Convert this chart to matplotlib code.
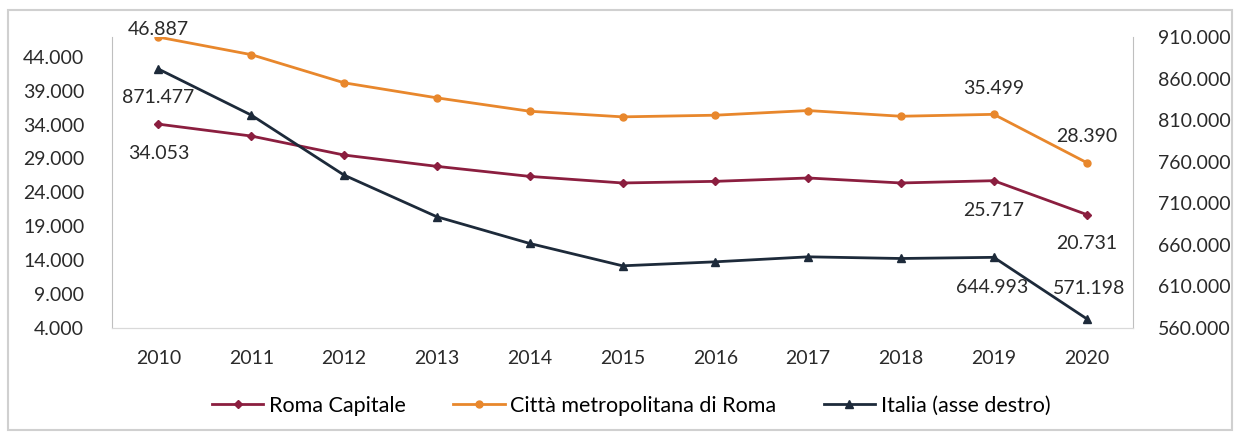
import matplotlib.pyplot as plt
from matplotlib.patches import Rectangle
from matplotlib.ticker import FuncFormatter

plt.rcParams['font.family'] = ['Lato', 'DejaVu Sans']

anni = ["2010", "2011", "2012", "2013", "2014", "2015", "2016", "2017", "2018", "2019", "2020"]
roma_capitale = [34053, 32300, 29500, 27830, 26350, 25380, 25620, 26115, 25380, 25717, 20731]
citta_metro = [46887, 44300, 40150, 37930, 35955, 35127, 35370, 36058, 35216, 35499, 28390]
italia = [871477, 816100, 743900, 693800, 661700, 634800, 639600, 645600, 643600, 644993, 571198]

tick_sx = [4000, 9000, 14000, 19000, 24000, 29000, 34000, 39000, 44000]
tick_dx = [560000, 610000, 660000, 710000, 760000, 810000, 860000, 910000]

c_roma = "#8B1E3F"
c_citta = "#E8872C"
c_italia = "#1D2A3A"
c_testo = "#2A2A2A"


def fmt(v, pos=None):
    return f"{v:,.0f}".replace(",", ".")


fig = plt.figure(figsize=(12.35, 4.32), dpi=100)
fig.patches.append(Rectangle((8 / 1235, 2 / 432), 1224 / 1235, 420 / 432,
                             transform=fig.transFigure, fill=False,
                             edgecolor="#D0D0D0", linewidth=1.5))

ax = fig.add_axes([112 / 1235, 104 / 432, 1021 / 1235, 291 / 432])
ax2 = ax.twinx()

x = range(len(anni))
l1, = ax.plot(x, roma_capitale, color=c_roma, marker="D", markersize=4, linewidth=2,
              label="Roma Capitale")
l2, = ax.plot(x, citta_metro, color=c_citta, marker="o", markersize=5, linewidth=2,
              label="Città metropolitana di Roma")
l3, = ax2.plot(x, italia, color=c_italia, marker="^", markersize=6, linewidth=2,
               label="Italia (asse destro)")

ax.set_xlim(-0.5, 10.5)
ax.set_ylim(4000, 46900)
ax2.set_ylim(560000, 910000)
ax.set_yticks(tick_sx)
ax2.set_yticks(tick_dx)
ax.yaxis.set_major_formatter(FuncFormatter(fmt))
ax2.yaxis.set_major_formatter(FuncFormatter(fmt))
ax.set_xticks(list(x))
ax.set_xticklabels(anni)

for a in (ax, ax2):
    a.tick_params(length=0, labelsize=14, labelcolor=c_testo)
    a.spines["top"].set_visible(False)
    a.spines["left"].set_color("#BFBFBF")
    a.spines["right"].set_color("#BFBFBF")
    a.spines["bottom"].set_color("#D9D9D9")
ax.tick_params(axis="y", pad=20)
ax2.tick_params(axis="y", pad=18)
ax.tick_params(axis="x", pad=16)
ax2.spines["left"].set_visible(False)
ax.spines["right"].set_visible(False)


# etichette dei dati
def lab(a, i, serie, dy, dx=0):
    a.annotate(fmt(serie[i]), (i, serie[i]), xytext=(dx, dy), textcoords="offset pixels",
               ha="center", va="center", fontsize=14, color=c_testo)


lab(ax, 0, citta_metro, 8)
lab(ax2, 0, italia, -28)
lab(ax, 0, roma_capitale, -29)
lab(ax, 9, citta_metro, 26)
lab(ax, 10, citta_metro, 26)
lab(ax, 9, roma_capitale, -30)
lab(ax, 10, roma_capitale, -29)
lab(ax2, 9, italia, -30, -2)
lab(ax2, 10, italia, 30, 3)

fig.legend(handles=[l1, l2, l3], loc="center", bbox_to_anchor=(631 / 1235, 1 - 406 / 432),
           ncol=3, frameon=False, fontsize=15.5, handlelength=2.4, columnspacing=2.2,
           handletextpad=0.25)

fig.savefig("out.png", dpi=100)
